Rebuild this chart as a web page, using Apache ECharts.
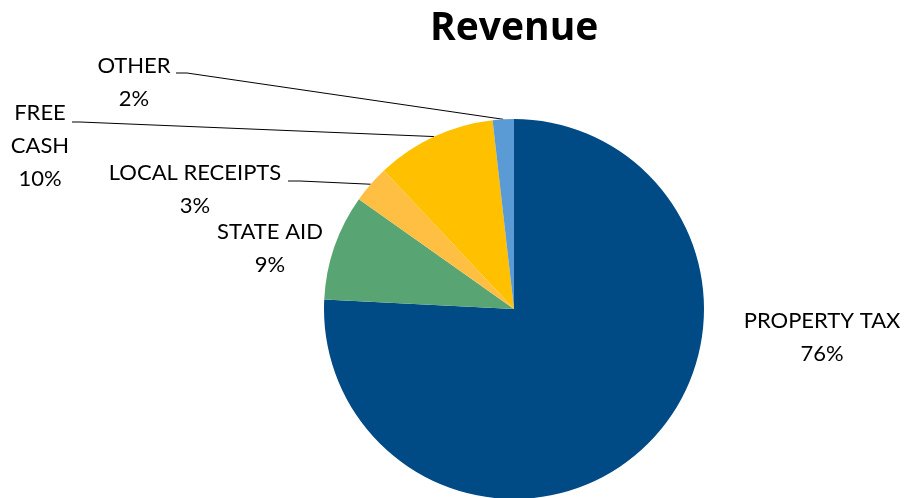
<!DOCTYPE html>
<html>
<head>
<meta charset="utf-8">
<script src="https://cdn.jsdelivr.net/npm/echarts@6/dist/echarts.min.js"></script>
<style>
html,body{margin:0;padding:0;background:#fff;}
#chart{width:905px;height:498px;}
</style>
</head>
<body>
<div id="chart"></div>
<script>
const categories = ['PROPERTY TAX', 'STATE AID', 'LOCAL RECEIPTS', 'FREE CASH', 'OTHER'];
const labelNames = ['PROPERTY TAX', 'STATE AID', 'LOCAL RECEIPTS', 'FREE\nCASH', 'OTHER'];
const values = [75.8, 9.0, 3.2, 10.2, 1.8];
const colors = ['#004A86', '#58A573', '#FEBF42', '#FFC000', '#5B9BD5'];

// label anchor (centre of text block) and leader-line start for each slice
const labelPos = [
  {x: 822, y: 337, line: false},
  {x: 270, y: 248, line: false},
  {x: 195, y: 189, line: true, lx: 288, ly: 181, ex: 300},
  {x: 40,  y: 146, line: true, lx: 72,  ly: 122, ex: 80},
  {x: 134, y: 82,  line: true, lx: 176, ly: 73,  ex: 187}
];

const chart = echarts.init(document.getElementById('chart'));
const font = 'Lato, "Open Sans", sans-serif';
chart.setOption({
  animation: false,
  title: {
    text: 'Revenue',
    left: 425, top: 4,
    textStyle: {fontFamily: '"Open Sans", sans-serif', fontWeight: 'bold', fontSize: 39, color: '#000'}
  },
  series: [{
    type: 'pie',
    center: [514, 309],
    radius: 190,
    startAngle: 90,
    clockwise: true,
    percentPrecision: 0,
    data: categories.map((c, i) => ({
      name: c, value: values[i],
      itemStyle: {color: colors[i]},
      labelLine: {show: labelPos[i].line}
    })),
    label: {
      show: true,
      position: 'outside',
      formatter: p => labelNames[p.dataIndex] + '\n' + p.percent + '%',
      fontFamily: font, fontSize: 22, lineHeight: 33, color: '#000', align: 'center'
    },
    labelLine: {lineStyle: {color: '#000', width: 1}, length: 10, length2: 10},
    labelLayout: function (params) {
      const lp = labelPos[params.dataIndex];
      const res = {x: lp.x, y: lp.y, align: 'center', verticalAlign: 'middle'};
      if (lp.line && params.labelLinePoints) {
        const edge = params.labelLinePoints[0];
        res.labelLinePoints = [[lp.lx, lp.ly], [lp.ex, lp.ly], edge];
      }
      return res;
    }
  }]
});
</script>
</body>
</html>
